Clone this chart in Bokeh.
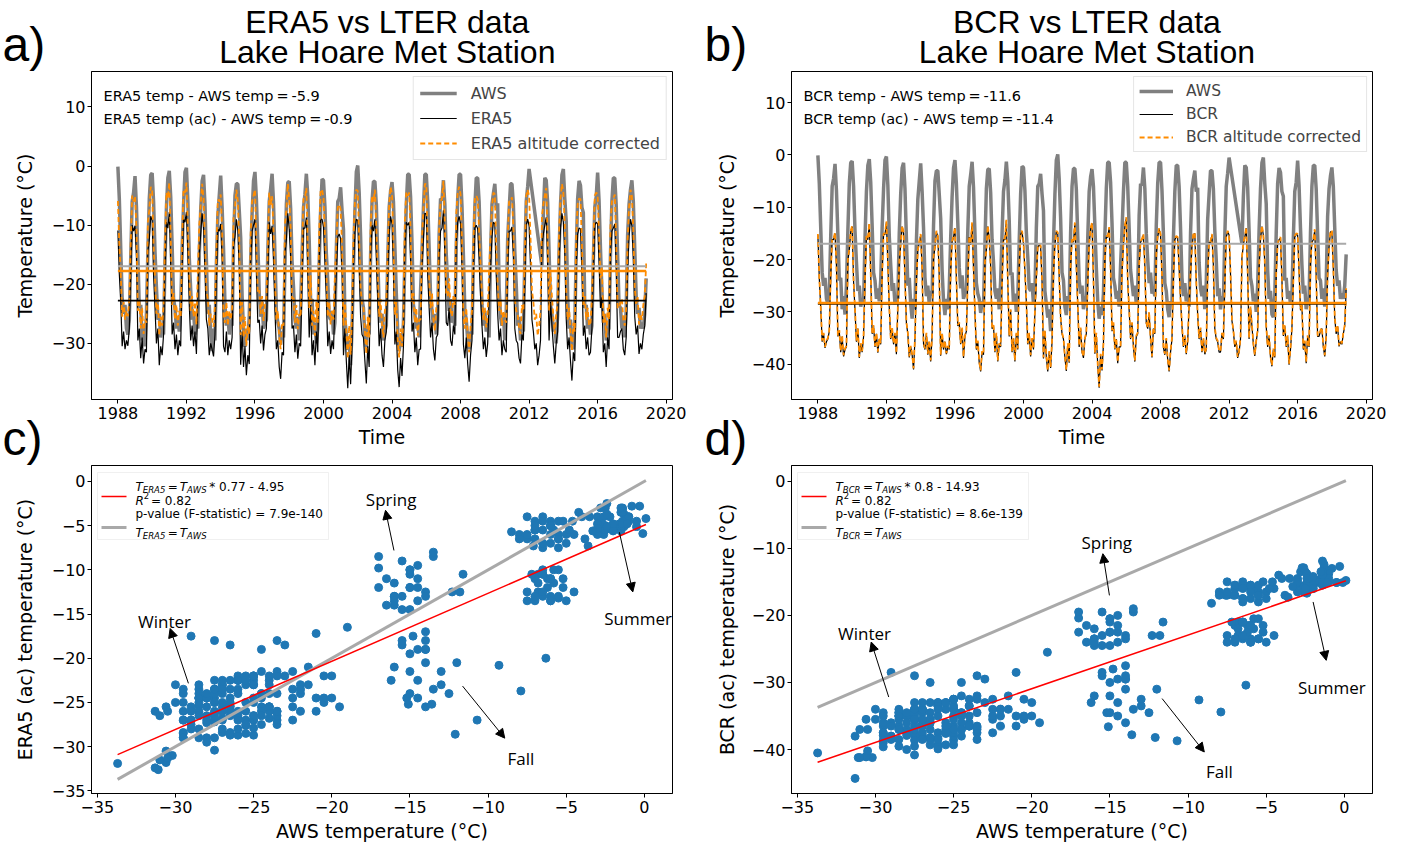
import numpy as np
from bokeh.plotting import figure
from bokeh.layouts import column, row
from bokeh.models import (Label, Legend, LegendItem, FixedTicker, Arrow, NormalHead,
                          BoxAnnotation, Range1d)
from bokeh.core.properties import value
from bokeh.embed import file_html
from bokeh.resources import INLINE

nan = float("nan")
first_year = 1988

# Monthly AWS temperature (Lake Hoare), Jan 1988 .. Nov 2018 (one row per year)
aws = [
    -0.1, -5.5, -14.0, -22.5, -25.0, -23.5, -27.5, -28.5, -26.0, -15.5, -6.0, -4.5,
    -1.7, -6.8, -15.2, -24.0, -23.5, -29.5, -27.0, -30.5, -25.0, -14.5, -5.5, -1.5,
    -1.2, -6.0, -14.5, -20.5, -26.0, -25.0, -29.0, -27.5, -28.5, -16.0, -7.0, -2.0,
    -0.8, -5.2, -13.5, -22.5, -24.0, -27.5, -25.5, -28.0, -24.0, -14.0, -6.5, -1.0,
    -0.3, -5.8, -15.5, -21.0, -26.0, -24.5, -28.5, -27.0, -27.5, -15.0, -7.5, -2.5,
    -1.5, -6.5, -16.0, -25.0, -23.5, -28.5, -31.3, -27.5, -29.5, -16.5, -8.5, -5.0,
    -1.6, -7.0, -14.0, -23.5, -27.0, -25.0, -28.5, -26.0, -27.0, -13.5, -5.0, -3.0,
    -3.0, -7.5, -12.1, -22.0, -28.0, -30.6, -27.5, -29.5, -25.5, -16.0, -8.0, -2.5,
    -1.0, -5.5, -13.0, -21.5, -25.5, -23.0, -27.5, -26.5, -26.0, -14.5, -6.0, -3.8,
    -1.3, -6.2, -15.0, -24.5, -26.5, -27.5, -30.2, -28.0, -29.0, -17.0, -6.5, -2.8,
    -2.6, -7.2, -16.2, -20.5, -26.0, -27.5, -25.5, -29.5, -24.0, -15.0, -7.0, -4.8,
    -1.3, -5.0, -12.5, -23.0, -22.5, -28.5, -26.5, -30.0, -27.5, -16.5, -7.5, -2.2,
    -2.4, -6.8, -14.8, -19.5, -25.5, -26.0, -24.5, -28.5, -26.5, -14.0, -6.0, -5.5,
    -3.6, -7.5, -10.7, -26.0, -28.5, -31.1, -29.5, -33.7, -27.5, -17.0, -7.6, -1.0,
    0.1, -4.5, -12.0, -22.5, -24.0, -29.0, -30.6, -27.0, -28.5, -15.0, -6.0, -2.6,
    -2.6, -6.5, -15.5, -24.0, -26.5, -25.0, -29.5, -28.0, -27.0, -16.0, -7.0, -4.2,
    -2.7, -6.0, -13.6, -21.5, -28.0, -31.3, -29.0, -30.6, -26.5, -15.5, -6.5, -1.4,
    -1.4, -5.2, -13.0, -23.5, -25.0, -27.5, -26.0, -29.0, -21.0, -14.5, -7.1, -1.4,
    -1.4, -6.0, -14.0, -22.0, -24.5, -27.0, -25.0, -28.5, -26.0, -11.6, -5.5, -5.8,
    -2.4, -6.5, -15.0, -20.0, -24.5, -22.5, -26.5, -25.5, -27.0, -13.5, -5.5, -1.4,
    -1.4, -6.8, -15.1, -24.5, -26.0, -29.5, -31.0, -28.0, -28.5, -16.0, -7.0, -2.0,
    -2.0, -6.0, -14.0, -23.5, -27.0, -24.5, -28.0, -26.5, -29.0, -15.0, -6.5, -4.6,
    -3.0, -7.0, -6.3, -20.5, -25.5, -27.0, -25.0, -29.5, -24.5, -12.3, -7.5, -3.0,
    -3.0, -6.5, -14.5, -20.0, -27.0, -25.5, -29.5, -27.0, -28.0, -15.5, -6.0, -3.5,
    -0.5, nan, nan, nan, nan, nan, nan, nan, nan, -17.0, -8.0, -2.0,
    -2.4, -6.2, -14.5, -23.5, -25.0, -28.0, -26.5, -30.0, -25.0, -14.5, -6.5, -1.5,
    -0.5, -5.5, -9.3, -22.0, -27.5, -26.0, -30.5, -31.0, -27.0, -15.0, -5.5, -2.5,
    -3.3, -7.0, -7.9, -24.0, -23.5, -27.5, -26.0, -28.5, -27.0, -16.0, -7.0, -5.2,
    -1.1, -5.8, -14.0, -21.0, -26.5, -25.0, -29.5, -28.0, -27.5, -15.0, -6.0, -2.0,
    -2.0, -6.5, -15.0, -23.5, -24.0, -27.5, -25.5, -29.0, -24.5, -11.8, -6.5, -4.0,
    -2.4, -6.0, -14.0, -22.0, -25.0, -24.0, -27.5, -26.5, -27.5, -25.0, -19.0,
]

# Monthly ERA5 temperature, altitude corrected (ac)
era5_ac = [
    -5.9, -13.2, -18.0, -25.5, -23.0, -26.0, -24.5, -25.4, -22.5, -13.0, -5.0, -6.0,
    -5.1, -10.5, -24.5, -22.5, -27.5, -24.0, -28.4, -26.0, -26.5, -9.5, -7.5, -3.5,
    -4.2, -13.5, -19.0, -25.0, -22.5, -28.7, -25.5, -27.0, -23.5, -13.0, -4.5, -5.5,
    -2.8, -12.0, -23.5, -21.5, -26.0, -23.5, -27.0, -24.5, -25.5, -12.5, -4.0, -4.5,
    -2.8, -10.0, -18.5, -24.5, -22.0, -25.5, -23.0, -26.8, -18.0, -10.0, -6.5, -3.0,
    -5.6, -13.0, -21.0, -22.5, -27.0, -25.0, -26.0, -27.2, -23.5, -14.0, -5.7, -6.0,
    -4.8, -11.0, -25.5, -26.5, -23.0, -27.0, -24.5, -26.0, -24.0, -8.5, -7.0, -4.0,
    -5.9, -12.5, -28.6, -23.0, -29.0, -25.5, -30.4, -27.0, -28.5, -11.5, -6.0, -5.0,
    -4.0, -13.0, -21.5, -21.0, -25.0, -22.0, -26.2, -23.5, -22.5, -13.5, -4.5, -6.5,
    -5.1, -11.0, -19.5, -26.0, -24.5, -29.0, -31.0, -26.5, -27.0, -9.8, -7.5, -3.0,
    -5.6, -10.5, -22.5, -22.0, -26.5, -23.5, -27.6, -25.0, -25.5, -14.5, -5.5, -5.5,
    -3.7, -13.5, -24.0, -18.5, -27.0, -24.5, -28.7, -23.0, -26.5, -11.0, -4.0, -4.0,
    -5.3, -11.5, -17.5, -25.5, -23.0, -26.8, -24.5, -26.0, -18.5, -13.0, -7.0, -6.5,
    -7.3, -13.5, -27.0, -22.5, -28.0, -32.6, -27.0, -31.9, -25.0, -12.0, -6.2, -4.0,
    -4.2, -12.5, -20.5, -23.5, -24.0, -28.0, -31.8, -25.5, -29.0, -10.5, -5.0, -6.0,
    -4.0, -10.5, -18.0, -25.5, -22.5, -27.0, -29.0, -24.5, -23.0, -14.0, -6.5, -3.5,
    -4.8, -13.0, -25.2, -23.0, -29.5, -32.4, -27.5, -30.5, -25.5, -9.0, -4.5, -5.0,
    -4.5, -11.0, -23.0, -21.5, -26.5, -24.0, -28.7, -26.0, -26.0, -12.0, -7.3, -3.0,
    -3.1, -13.5, -19.0, -24.0, -21.5, -26.0, -27.9, -24.0, -23.5, -10.5, -6.0, -5.5,
    -2.5, -10.0, -21.5, -22.0, -19.0, -24.5, -25.4, -22.0, -23.5, -8.0, -4.5, -3.5,
    -4.8, -12.5, -25.2, -27.5, -24.0, -28.5, -31.5, -27.0, -24.5, -13.0, -5.5, -5.0,
    -5.6, -11.0, -17.0, -22.0, -26.0, -24.0, -27.3, -25.0, -17.5, -12.0, -7.0, -4.5,
    -4.8, -13.5, -20.0, -24.5, -22.5, -27.0, -24.5, -26.0, -26.5, -12.5, -6.0, -6.0,
    -5.3, -10.5, -22.5, -24.5, -25.0, -27.5, -28.4, -23.5, -24.5, -14.5, -5.0, -4.0,
    -5.1, -12.0, -21.0, -23.0, -26.0, -25.0, -28.7, -27.0, -24.5, -8.5, -6.5, -5.0,
    -3.7, -12.0, -24.5, -18.0, -22.0, -25.5, -28.4, -25.0, -23.0, -11.0, -5.5, -3.0,
    -4.5, -10.0, -20.8, -26.0, -24.0, -28.0, -31.3, -26.5, -28.0, -12.0, -6.5, -5.5,
    -5.6, -13.0, -23.7, -22.0, -26.0, -24.0, -27.0, -26.5, -22.5, -13.5, -5.0, -4.5,
    -4.8, -11.5, -19.0, -17.2, -26.5, -25.0, -29.0, -24.0, -26.0, -10.0, -6.0, -5.5,
    -4.8, -12.5, -24.0, -24.0, -23.0, -22.5, -26.0, -27.0, -24.0, -12.5, -7.0, -4.0,
    -5.1, -11.0, -20.5, -23.5, -22.0, -26.8, -25.0, -26.0, -23.5, -22.0, -16.5,
]

# Monthly BCR temperature, altitude corrected (ac)
bcr_ac = [
    -15.1, -23.5, -29.0, -35.5, -34.0, -36.7, -35.5, -35.0, -33.5, -23.0, -16.0, -16.0,
    -14.8, -21.0, -34.5, -33.5, -37.5, -34.5, -38.3, -37.0, -36.5, -20.0, -18.0, -14.5,
    -13.5, -24.0, -29.5, -35.5, -33.0, -38.6, -36.0, -37.5, -34.5, -23.5, -15.5, -16.0,
    -13.0, -22.5, -34.0, -32.5, -36.5, -34.0, -37.6, -35.0, -36.0, -23.0, -15.0, -15.0,
    -12.7, -20.5, -29.0, -35.0, -33.0, -36.0, -34.0, -37.9, -29.0, -20.5, -17.0, -13.5,
    -14.8, -23.5, -32.0, -34.0, -38.5, -36.5, -38.0, -40.8, -35.0, -24.0, -18.2, -16.5,
    -15.1, -21.5, -36.0, -37.0, -34.0, -38.0, -35.5, -39.3, -34.5, -19.5, -17.5, -14.5,
    -15.4, -23.0, -38.2, -34.0, -37.0, -35.5, -37.9, -36.5, -37.0, -22.0, -16.5, -15.5,
    -13.8, -23.5, -32.5, -32.0, -36.0, -33.0, -38.6, -34.5, -33.5, -24.0, -15.5, -17.0,
    -12.9, -21.5, -30.0, -37.0, -35.5, -39.5, -41.2, -37.5, -38.0, -20.4, -18.0, -13.5,
    -15.7, -21.0, -33.0, -32.5, -37.5, -34.0, -39.3, -36.0, -36.5, -24.5, -16.0, -16.0,
    -12.4, -24.0, -34.5, -29.5, -37.5, -35.0, -39.3, -34.0, -37.0, -21.5, -15.0, -14.5,
    -16.7, -22.0, -28.0, -36.0, -34.0, -38.3, -35.0, -37.0, -30.0, -23.5, -17.5, -17.0,
    -17.3, -24.0, -38.7, -33.5, -38.5, -41.2, -37.5, -40.5, -35.5, -22.5, -17.0, -14.5,
    -14.8, -23.0, -31.0, -34.0, -35.0, -38.5, -41.1, -36.0, -39.5, -21.0, -16.0, -16.5,
    -12.9, -21.0, -28.5, -36.5, -33.0, -37.5, -38.6, -35.0, -34.0, -24.5, -17.0, -14.0,
    -12.9, -23.5, -37.8, -34.0, -40.0, -44.3, -38.0, -41.0, -36.0, -19.5, -15.5, -15.5,
    -13.8, -21.5, -33.5, -32.0, -37.0, -35.0, -39.6, -36.5, -36.5, -22.5, -17.0, -13.5,
    -11.9, -24.0, -29.5, -35.0, -32.0, -36.5, -39.3, -34.5, -34.0, -21.0, -16.5, -16.0,
    -15.1, -21.0, -32.0, -33.0, -30.0, -35.0, -38.5, -33.0, -34.0, -19.0, -15.5, -14.0,
    -15.1, -23.0, -36.6, -38.0, -35.0, -39.0, -41.2, -37.5, -35.0, -23.5, -16.0, -15.5,
    -15.7, -21.5, -27.5, -32.5, -36.5, -34.5, -37.9, -35.5, -28.5, -22.5, -17.5, -15.0,
    -14.8, -24.0, -30.4, -35.0, -33.0, -37.5, -35.0, -37.9, -37.0, -23.0, -16.5, -16.5,
    -15.1, -21.0, -33.0, -35.0, -35.5, -37.5, -37.5, -34.0, -35.0, -24.5, -15.5, -14.5,
    -15.1, -22.5, -31.5, -33.5, -36.5, -35.5, -38.6, -37.5, -35.0, -19.5, -17.0, -15.5,
    -13.8, -22.5, -35.0, -29.0, -32.5, -36.0, -38.2, -35.5, -33.5, -21.5, -16.0, -13.5,
    -15.1, -20.5, -32.6, -36.5, -34.5, -38.5, -40.2, -37.0, -38.5, -22.5, -17.0, -16.0,
    -15.7, -23.5, -34.4, -32.5, -36.5, -34.5, -39.9, -37.0, -33.0, -24.0, -15.5, -15.0,
    -15.1, -22.0, -29.5, -28.5, -37.0, -35.5, -39.6, -34.5, -36.5, -20.5, -16.5, -16.0,
    -14.2, -23.0, -34.5, -34.5, -33.5, -33.0, -36.5, -38.3, -34.5, -23.0, -17.5, -14.5,
    -14.5, -21.5, -31.0, -34.0, -32.5, -36.4, -35.5, -36.0, -34.0, -32.5, -25.5,
]

era5_altitude_correction = 5.0   # ERA5 (ac) = ERA5 + correction
bcr_altitude_correction = 0.2    # BCR (ac) = BCR + correction

fit_c = (0.77, -4.95)    # slope, intercept shown in legend of c)
fit_d = (0.8, -14.93)

year_ticks = [1988, 1992, 1996, 2000, 2004, 2008, 2012, 2016, 2020]

# season annotations: (text, text_x, text_y, tail_x, tail_y, head_x, head_y) in data units
notes_c = [
    ("Winter", -30.7, -15.8, -29.17, -22.84, -30.34, -16.64),
    ("Spring", -16.2, -2.0, -16.02, -7.81, -16.56, -3.27),
    ("Summer", -0.4, -15.5, -1.6, -5.75, -0.74, -12.5),
    ("Fall", -7.9, -31.3, -11.63, -23.15, -8.93, -29.04),
]
notes_d = [
    ("Winter", -30.7, -22.7, -29.15, -32.17, -30.27, -23.97),
    ("Spring", -15.2, -9.1, -15.03, -17.02, -15.45, -10.81),
    ("Summer", -0.8, -30.7, -2.0, -18.0, -1.16, -26.7),
    ("Fall", -8.0, -43.3, -11.66, -32.4, -8.96, -40.36),
]

# ---------------------------------------------------------------------------
A = np.array(aws, dtype=float)
E_ac = np.array(era5_ac, dtype=float)
B_ac = np.array(bcr_ac, dtype=float)
E = E_ac - era5_altitude_correction
B = B_ac - bcr_altitude_correction
t = first_year + np.arange(len(A)) / 12.0
ok = ~np.isnan(A)

# ---------------- layout (pixels) ----------------
FW, FH = 584, 328          # frame size of every panel
STRIP = 48                 # strips holding panel letters and y-axis labels
LB = 40                    # left border of each panel (ticks + tick labels)
RB_A, RB_B = 28, 29        # right borders
HEAD = 70                  # header band with the two-line titles
TOP_B = (1, 65)            # top/bottom borders of upper panels
BOT_B = (1, 53)            # top/bottom borders of lower panels
TOTAL_H = HEAD + TOP_B[0] + FH + TOP_B[1] + BOT_B[0] + FH + BOT_B[1]
GLYPH_SHIFT = 12.5         # measured offset of text glyph baselines in the text canvases
MINUS = "\u2212"


def fmt(v):
    s = "%g" % abs(v)
    return (MINUS + s) if v < 0 else s


def style(p, xticks, yticks, xlabel):
    p.xaxis.ticker = FixedTicker(ticks=xticks)
    p.yaxis.ticker = FixedTicker(ticks=yticks)
    p.xaxis.major_label_overrides = {v: fmt(v) for v in xticks}
    p.yaxis.major_label_overrides = {v: fmt(v) for v in yticks}
    p.xaxis.axis_label = xlabel
    for ax in (p.xaxis[0], p.yaxis[0]):
        ax.major_label_text_font = "DejaVu Sans"
        ax.major_label_text_font_size = "16px"
        ax.major_label_text_color = "black"
        ax.axis_label_text_font = "DejaVu Sans"
        ax.axis_label_text_font_size = "19px"
        ax.axis_label_text_font_style = "normal"
        ax.axis_label_text_color = "black"
        ax.major_tick_out = 4
        ax.major_tick_in = 0
        ax.minor_tick_out = 0
        ax.minor_tick_in = 0
        ax.axis_line_color = "black"
        ax.major_tick_line_color = "black"
        ax.major_label_standoff = 2
    p.xaxis[0].major_label_standoff = 3
    p.xaxis[0].axis_label_standoff = 4
    p.xgrid.visible = False
    p.ygrid.visible = False
    p.outline_line_color = "black"
    p.outline_line_width = 1


def make_fig(xr, yr, right, borders):
    top, bottom = borders
    return figure(width=LB + FW + right, height=top + FH + bottom, title=None,
                  x_range=Range1d(*xr), y_range=Range1d(*yr),
                  min_border_left=LB, min_border_right=right, min_border_top=top,
                  min_border_bottom=bottom, output_backend="svg", toolbar_location=None,
                  background_fill_color="white", border_fill_color="white")


def text_canvas(w, h):
    """A figure whose frame is the whole canvas, in pixel units (y downwards)."""
    p = figure(width=w, height=h, title=None, x_range=Range1d(0, w), y_range=Range1d(h, 0),
               x_axis_location=None, y_axis_location=None, toolbar_location=None,
               min_border=0, output_backend="svg", outline_line_color=None,
               background_fill_color="white", border_fill_color="white")
    p.xgrid.visible = False
    p.ygrid.visible = False
    return p


def add_label(p, x, y, text, size, font="DejaVu Sans", style_="normal", align="left", units="screen"):
    p.add_layout(Label(x=x, y=y, x_units=units, y_units=units, text=text, text_font=font,
                       text_font_size=size, text_font_style=style_, text_align=align,
                       text_baseline="alphabetic", text_color="black"))


def time_panel(name, yr, yticks, right, model, model_ac, diff_lines, leg_cfg):
    p = make_fig((1986.46, 2020.37), yr, right, TOP_B)
    style(p, year_ticks, yticks, "Time")
    r_aws = p.line(t[ok], A[ok], line_color="#808080", line_width=3.5)
    r_m = p.line(t, model, line_color="black", line_width=1.2)
    r_mac = p.line(t, model_ac, line_color="darkorange", line_width=1.8, line_dash="5 3")
    t0, t1 = t[0], t[-1]
    p.line([t0, t1], [np.nanmean(A)] * 2, line_color="#a9a9a9", line_width=2)
    p.line([t0, t1], [np.nanmean(model)] * 2, line_color="black", line_width=1.6)
    p.line([t0, t1], [np.nanmean(model_ac)] * 2, line_color="darkorange", line_width=2.5)

    leg = Legend(items=[LegendItem(label="AWS", renderers=[r_aws]),
                        LegendItem(label=name, renderers=[r_m]),
                        LegendItem(label=name + " altitude corrected", renderers=[r_mac])],
                 location="top_right")
    fs, gw, st, pad, lh = leg_cfg
    leg.label_text_font = "DejaVu Sans"
    leg.label_text_font_size = fs
    leg.glyph_width = gw
    leg.glyph_height = lh
    leg.label_height = lh
    leg.label_standoff = st
    leg.padding = pad
    leg.spacing = 5
    leg.margin = 5
    leg.border_line_color = "#cccccc"
    leg.background_fill_alpha = 0.85
    p.add_layout(leg)

    add_label(p, 12, FH - 24, diff_lines[0], "14.5px")
    add_label(p, 12, FH - 47, diff_lines[1], "14.5px")
    return p


pa = time_panel("ERA5", (-39.5, 16.0), [-30, -20, -10, 0, 10], RB_A, E, E_ac,
                ["ERA5 temp - AWS temp\u2009=\u2009-5.9", "ERA5 temp (ac) - AWS temp\u2009=\u2009-0.9"],
                ("16px", 37, 14, 6, 20))
pb = time_panel("BCR", (-46.75, 15.95), [-40, -30, -20, -10, 0, 10], RB_B, B, B_ac,
                ["BCR temp - AWS temp\u2009=\u2009-11.6", "BCR temp (ac) - AWS temp\u2009=\u2009-11.4"],
                ("15.5px", 34, 13, 5, 18))

DV = {"A": .684, "B": .686, "C": .698, "E": .632, "R": .695, "S": .635, "W": .989,
      "5": .636, "T": .611, "2": .636}


def tw(s, size):
    return sum(DV.get(ch, .6) for ch in s) * size


def math_T(p, x, y, sub, rest=None):
    """Draw T_sub = T_AWS (+ rest) starting at screen (x, y baseline)."""
    add_label(p, x, y, "T", "12px", style_="italic")
    x1 = x + 7.3
    add_label(p, x1, y - 3, sub, "8.5px", style_="italic")
    x2 = x1 + tw(sub, 8.5) + 2.5
    add_label(p, x2, y, "=", "12px")
    x3 = x2 + 12
    add_label(p, x3, y, "T", "12px", style_="italic")
    x4 = x3 + 7.3
    add_label(p, x4, y - 3, "AWS", "8.5px", style_="italic")
    if rest:
        add_label(p, x4 + tw("AWS", 8.5) + 2.5, y, rest, "12px")


def scatter_panel(model_ac, sub, fit, yr, yticks, notes, right, pval):
    p = make_fig((-35.37, 1.8), yr, right, BOT_B)
    style(p, [-35, -30, -25, -20, -15, -10, -5, 0], yticks, "AWS temperature (\u00b0C)")
    xs = A[ok]
    ys = model_ac[ok]
    p.scatter(xs, ys, size=8, fill_color="#1f77b4", line_color="#1f77b4")
    x0, x1 = np.min(xs), np.max(xs)
    p.line([x0, x1], [x0, x1], line_color="#a9a9a9", line_width=3)
    p.line([x0, x1], [fit[0] * x0 + fit[1], fit[0] * x1 + fit[1]], line_color="red", line_width=1.5)
    for (txt, tx, ty, xa, ya, xb, yb) in notes:
        p.add_layout(Arrow(x_start=xa, y_start=ya, x_end=xb, y_end=yb, line_color="black",
                           line_width=1, end=NormalHead(size=9, fill_color="black", line_color="black")))
        p.add_layout(Label(x=tx, y=ty, text=txt, text_font="Open Sans", text_font_size="17px",
                           text_align="center", text_baseline="alphabetic", text_color="black"))
    # custom legend (box offsets from the frame's top-left corner)
    H = FH
    bl, bt, bw, bh = 6, 7, 231, 67
    p.add_layout(BoxAnnotation(left=bl, right=bl + bw, top=H - bt, bottom=H - bt - bh,
                               left_units="screen", right_units="screen", top_units="screen",
                               bottom_units="screen", fill_color="white", fill_alpha=0.85,
                               line_color="#cccccc", line_width=1))
    p.add_layout(Arrow(x_start=bl + 4, y_start=H - bt - 24, x_end=bl + 29, y_end=H - bt - 24,
                       start_units="screen", end_units="screen", end=None,
                       line_color="red", line_width=1.5))
    p.add_layout(Arrow(x_start=bl + 4, y_start=H - bt - 55, x_end=bl + 29, y_end=H - bt - 55,
                       start_units="screen", end_units="screen", end=None,
                       line_color="#a9a9a9", line_width=3))
    tx0 = bl + 38
    math_T(p, tx0, H - bt - 14.5, sub, "*  %s - %s" % (("%g" % fit[0]), ("%g" % -fit[1])))
    add_label(p, tx0, H - bt - 28, "R", "12px", style_="italic")
    add_label(p, tx0 + 8.3, H - bt - 23, "2", "8.5px")
    add_label(p, tx0 + 15.5, H - bt - 28, "= 0.82", "12px")
    add_label(p, tx0, H - bt - 41.5, "p-value (F-statistic) = " + pval, "12px")
    math_T(p, tx0, H - bt - 60, sub)
    return p


pc = scatter_panel(E_ac, "ERA5", fit_c, (-35.3, 1.8), [-35, -30, -25, -20, -15, -10, -5, 0],
                   notes_c, RB_A, "7.9e-140")
pd_ = scatter_panel(B_ac, "BCR", fit_d, (-46.55, 2.34), [-40, -30, -20, -10, 0],
                    notes_d, RB_B, "8.6e-139")

# ---------------- header bands with the two-line titles ----------------
TITLE_FONT = "Liberation Sans"
PANEL_FONT = "Liberation Sans"


def header(name, width):
    h = text_canvas(width, HEAD)
    cx = LB + FW / 2
    h.text(x=[cx, cx], y=[33.5 - GLYPH_SHIFT, 64 - GLYPH_SHIFT],
           text=[name + " vs LTER data", "Lake Hoare Met Station"],
           text_font=value(TITLE_FONT), text_font_size=value("32px"), text_color="black",
           text_align="center", text_baseline="alphabetic")
    return h


ha = header("ERA5", LB + FW + RB_A)
hb = header("BCR", LB + FW + RB_B)

# ---------------- strips with panel letters and y-axis labels ----------------
up_center = HEAD + TOP_B[0] + FH / 2
low_center = HEAD + TOP_B[0] + FH + TOP_B[1] + BOT_B[0] + FH / 2


def strip(letters, letter_x, label_x, ylabels):
    s = text_canvas(STRIP, TOTAL_H)
    s.text(x=[letter_x, letter_x], y=[56.5 - GLYPH_SHIFT, 452 - GLYPH_SHIFT - 2], text=letters,
           text_font=value(PANEL_FONT), text_font_size=value("48px"), text_color="black",
           text_align="left", text_baseline="alphabetic")
    s.text(x=[label_x, label_x], y=[up_center, low_center], text=ylabels,
           text_font=value("DejaVu Sans"), text_font_size=value("19px"), text_color="black",
           text_align="center", text_baseline="middle", angle=np.pi / 2)
    return s


sl = strip(["a)", "c)"], 2, 24, ["Temperature (\u00b0C)", "ERA5 (ac) temperature (\u00b0C)"])
sm = strip(["b)", "d)"], 4, 26, ["Temperature (\u00b0C)", "BCR (ac) temperature (\u00b0C)"])

layout = row(sl, column(ha, pa, pc, spacing=0), sm, column(hb, pb, pd_, spacing=0), spacing=0)
open("out.html", "w").write(file_html(layout, INLINE))
